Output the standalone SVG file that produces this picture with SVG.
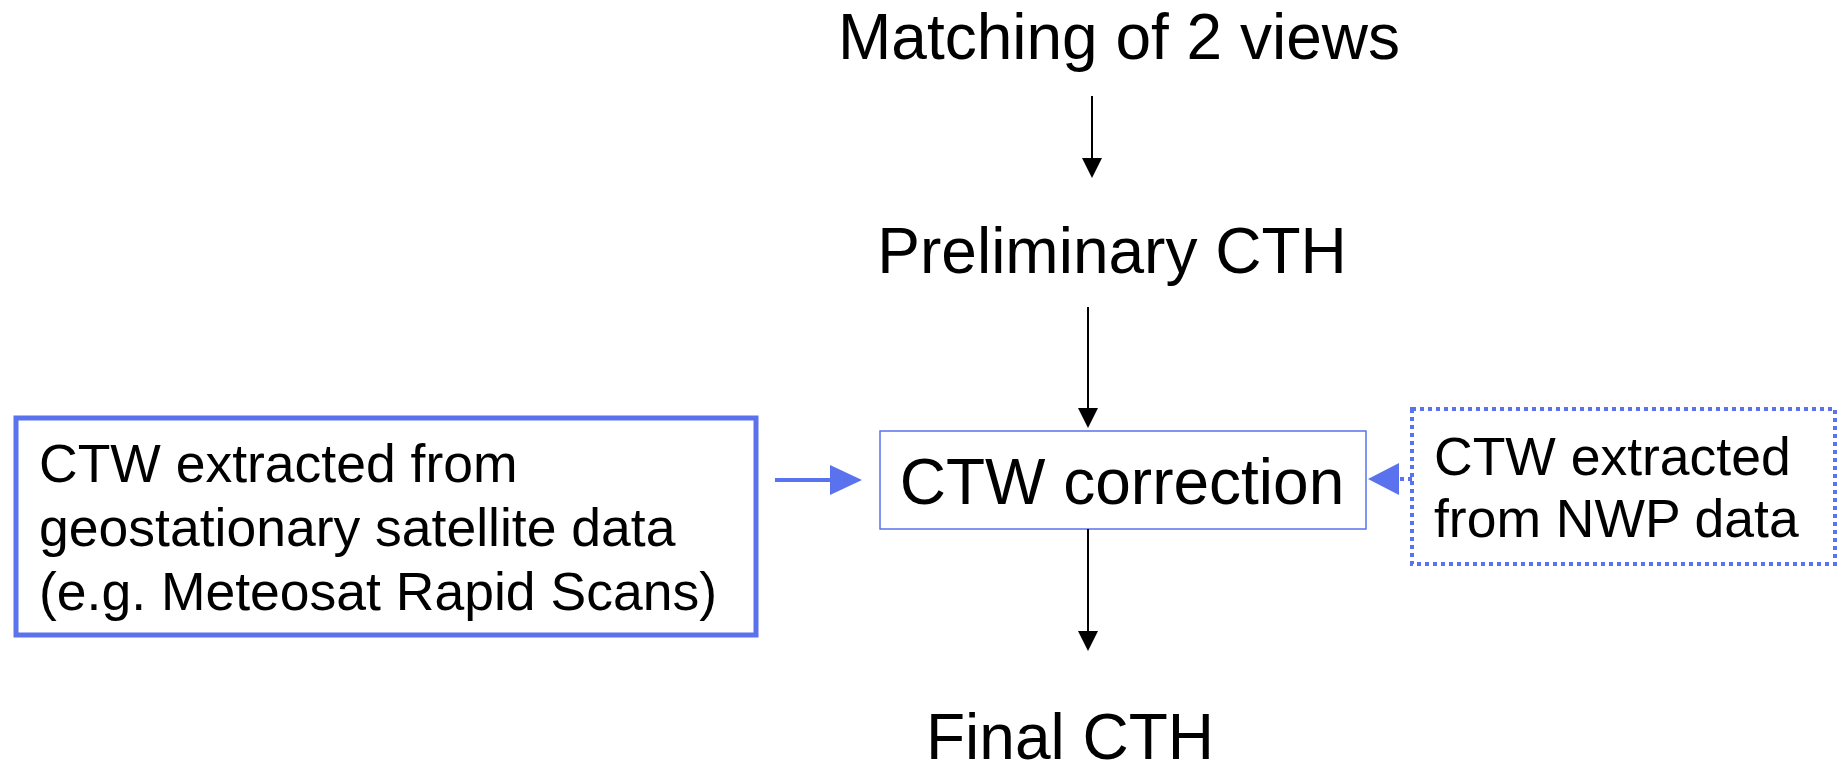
<svg xmlns="http://www.w3.org/2000/svg" width="1838" height="766" viewBox="0 0 1838 766">
  <defs>
    <style>
      text { font-family: "Liberation Sans", Arial, sans-serif; fill: #000; }
      .big { font-size: 64px; }
      .mid { font-size: 53.5px; }
      .blue-box { fill: #fff; stroke: #5a72ee; }
      .flow { stroke: #000; stroke-width: 2; fill: none; }
      .feed { stroke: #5a72ee; stroke-width: 4; fill: none; }
    </style>
  </defs>
  <rect width="1838" height="766" fill="#fff"/>

  <!-- nodes -->
  <g id="matching">
    <text class="big" x="1119" y="59" text-anchor="middle">Matching of 2 views</text>
  </g>
  <g id="preliminary-cth">
    <text class="big" x="1112" y="273" text-anchor="middle">Preliminary CTH</text>
  </g>
  <g id="ctw-correction">
    <rect class="blue-box" x="880" y="431" width="486" height="98" stroke-width="1.5"/>
    <text class="big" x="1122" y="504" text-anchor="middle">CTW correction</text>
  </g>
  <g id="ctw-geo">
    <rect class="blue-box" x="16" y="418" width="740" height="217" stroke-width="5"/>
    <text class="mid" x="39" y="482">CTW extracted from</text>
    <text class="mid" x="39" y="546">geostationary satellite data</text>
    <text class="mid" x="39" y="610">(e.g. Meteosat Rapid Scans)</text>
  </g>
  <g id="ctw-nwp">
    <rect class="blue-box" x="1412" y="409" width="423" height="155" stroke-width="4" stroke-dasharray="4 4"/>
    <text class="mid" x="1434" y="475">CTW extracted</text>
    <text class="mid" x="1434" y="537">from NWP data</text>
  </g>
  <g id="final-cth">
    <text class="big" x="1070" y="759" text-anchor="middle">Final CTH</text>
  </g>

  <!-- connectors -->
  <g id="connectors">
    <line class="flow" x1="1092" y1="96" x2="1092" y2="160"/>
    <polygon points="1082,158 1102,158 1092,178" fill="#000"/>

    <line class="flow" x1="1088" y1="307" x2="1088" y2="410"/>
    <polygon points="1078,408 1098,408 1088,428" fill="#000"/>

    <line class="flow" x1="1088" y1="529" x2="1088" y2="633"/>
    <polygon points="1078,631 1098,631 1088,651" fill="#000"/>

    <line class="feed" x1="775" y1="480" x2="832" y2="480"/>
    <polygon points="830,465 862,480 830,495" fill="#5a72ee"/>

    <line class="feed" x1="1412" y1="479" x2="1398" y2="479" stroke-dasharray="4 4"/>
    <polygon points="1399,463 1368,479 1399,495" fill="#5a72ee"/>
  </g>
</svg>
